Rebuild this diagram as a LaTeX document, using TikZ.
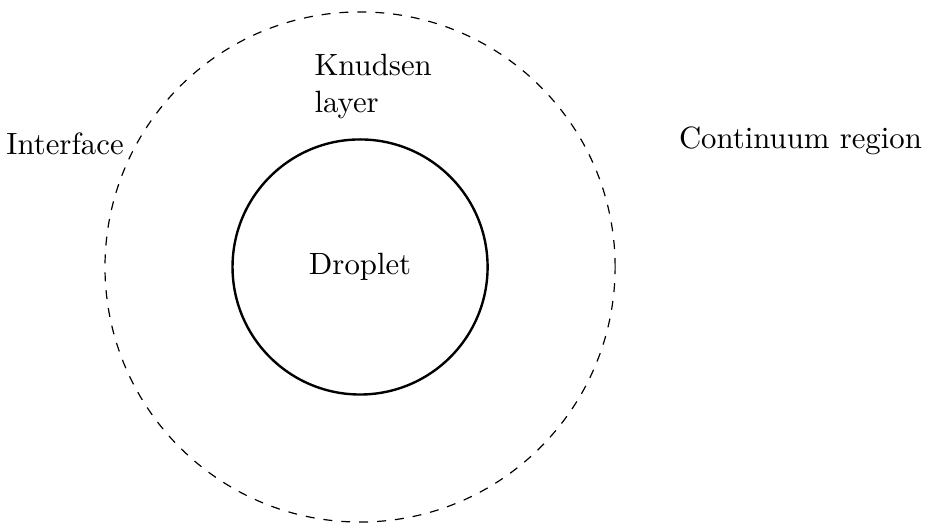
\documentclass[tikz,border=0pt]{standalone}
\usetikzlibrary{positioning}
\tikzset{
  lbl/.style={align=left, font=\fontsize{10.3pt}{12.5pt}\selectfont},
  drop/.style={circle, draw, thick, minimum size=3cm, inner sep=0pt, font=\fontsize{10.3pt}{12.5pt}\selectfont},
  knud/.style={circle, draw, dashed, minimum size=6cm, inner sep=0pt},
}
\begin{document}
\begin{tikzpicture}[x=1cm, y=1cm]
\useasboundingbox (-4.235,-3.0) rectangle (6.68,3.14);
\node[knud] (kl) at (0,0) {};
\node[drop] (dr) at (0,0) {Droplet};
\node[lbl, anchor=west] (kn)   at (-0.66, 2.12) {Knudsen\\layer};
\node[lbl] (intf) at (-3.47, 1.45) {Interface};
\node[lbl] (cont) at (5.18, 1.48) {Continuum region};
\end{tikzpicture}
\end{document}
